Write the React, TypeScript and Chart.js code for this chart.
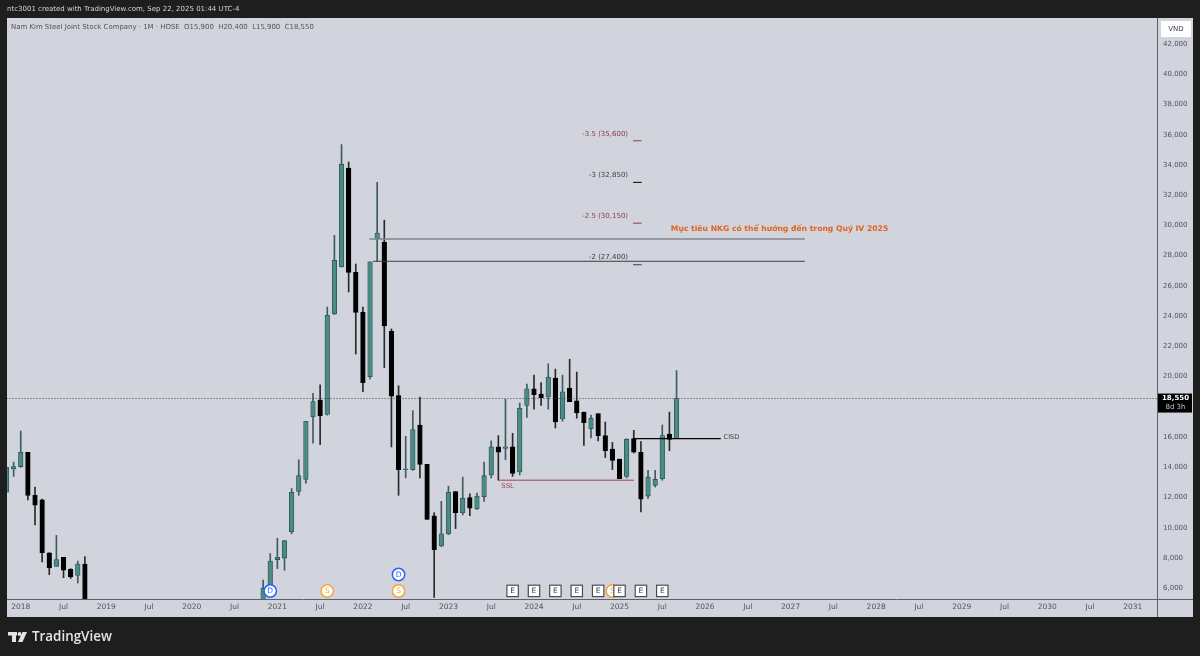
import { useEffect, useRef } from "react";
import { Chart, registerables } from "chart.js";

Chart.register(...registerables);

// month index 0 = Jan 2018
const months = [
  -2, -1, 0, 1, 2, 3, 4, 5, 6, 7, 8, 9,
  34, 35, 36, 37, 38, 39, 40, 41, 42, 43, 44, 45, 46, 47, 48, 49,
  50, 51, 52, 53, 54, 55, 56, 57, 58, 59, 60, 61, 62, 63, 64, 65,
  66, 67, 68, 69, 70, 71, 72, 73, 74, 75, 76, 77, 78, 79, 80, 81,
  82, 83, 84, 85, 86, 87, 88, 89, 90, 91, 92,
];
const opens = [
  12350, 13900, 14050, 15000, 12150, 11850, 8350, 7450, 8050, 7250, 6850, 7600,
  5000, 6000, 7900, 8000, 9750, 12400, 13200, 17350, 18450, 17500, 24150, 27250, 33800, 26900, 24250, 20000,
  29100, 28900, 23000, 18750, 13850, 13850, 16800, 14200, 10800, 8800, 9600, 12400, 11000, 12000, 11250, 12050,
  13500, 15350, 15250, 15350, 13700, 18100, 19200, 18850, 18650, 19900, 17200, 19250, 18400, 17650, 16550, 17550,
  16100, 15200, 14550, 13400, 15900, 15000, 12100, 12800, 13250, 16200, 15900,
];
const highs = [
  14000, 14350, 16400, 15000, 12700, 11900, 8350, 9500, 8050, 7300, 7800, 8100,
  6550, 8300, 9300, 9150, 12600, 14500, 17050, 18900, 19450, 24600, 29350, 35350, 34200, 27450, 24600, 27600,
  32850, 30350, 23150, 19400, 16050, 17750, 18650, 14200, 11000, 11750, 12750, 12400, 13350, 12250, 12300, 14350,
  15750, 16100, 18500, 16250, 18250, 19500, 20100, 19600, 20850, 20500, 20100, 21150, 20300, 17650, 17450, 17550,
  17000, 15650, 14550, 15900, 16450, 15700, 13800, 13800, 16800, 17650, 20400,
];
const lows = [
  12350, 13400, 14000, 11850, 10200, 7750, 6900, 7450, 6700, 6650, 6350, 4800,
  5000, 5950, 7300, 7200, 9600, 12150, 12950, 15600, 15500, 17450, 24100, 27250, 25600, 21500, 19000, 19850,
  27600, 20600, 15350, 12150, 13300, 13800, 13300, 10550, 5400, 8750, 9550, 9950, 10850, 10800, 11200, 11750,
  13300, 13150, 14500, 13400, 13500, 17300, 17850, 18100, 17850, 16600, 17050, 18350, 17250, 15450, 15950, 15750,
  14650, 13850, 13250, 13300, 14950, 11050, 11950, 12700, 13150, 15100, 15900,
];
const closes = [
  14000, 14050, 15000, 12150, 11500, 8350, 7350, 7900, 7200, 6750, 7600, 5000,
  6000, 7800, 8050, 9150, 12350, 13450, 17050, 18350, 17400, 24050, 27700, 34050, 26900, 24250, 19600, 27600,
  29500, 23350, 18700, 13850, 13900, 16500, 14200, 10550, 8550, 9600, 12350, 11000, 11950, 11300, 12100, 13450,
  15350, 15000, 15350, 13600, 17900, 19200, 18800, 18600, 19950, 17000, 19000, 18350, 17600, 16950, 17250, 16100,
  15100, 14450, 13250, 15850, 15000, 11900, 13350, 13200, 16100, 15850, 18550,
];

const priceTicks = [6000, 8000, 10000, 12000, 14000, 16000, 18000, 20000, 22000, 24000, 26000, 28000, 30000, 32000, 34000, 36000, 38000, 40000, 42000];
const timeTicks = [0, 6, 12, 18, 24, 30, 36, 42, 48, 54, 60, 66, 72, 78, 84, 90, 96, 102, 108, 114, 120, 126, 132, 138, 144, 150, 156];
const timeLabels = ["2018", "Jul", "2019", "Jul", "2020", "Jul", "2021", "Jul", "2022", "Jul", "2023", "Jul", "2024", "Jul", "2025", "Jul", "2026", "Jul", "2027", "Jul", "2028", "Jul", "2029", "Jul", "2030", "Jul", "2031"];

const lastPrice = 18550;
const fibPrices = [35600, 32850, 30150, 27400];
const fibLabels = ["-3.5 (35,600)", "-3 (32,850)", "-2.5 (30,150)", "-2 (27,400)"];
const fibLabelPrices = [36050, 33300, 30600, 27900];

const upperLinePrice = 29100;
const lowerLinePrice = 27630;
const ssLinePrice = 13150;
const cisdPrice = 15900;

const dividendMonths = [35, 53];
const splitMonths = [43, 53, 83];
const earningsMonths = [69, 72, 75, 78, 81, 84, 87, 90];

const UP = "#4c8a84";
const UP_EDGE = "#2c5256";
const DOWN = "#000000";
const FONT = '"DejaVu Sans"';

function segment(x0: number, x1: number, y: number, color: string, width: number, order = 1, dash: number[] = []) {
  return {
    type: "line" as const,
    data: [{ x: x0, y }, { x: x1, y }],
    borderColor: color,
    borderWidth: width,
    borderDash: dash,
    pointRadius: 0,
    order,
  };
}

const chartOverlay = {
  id: "overlay",
  beforeDraw(chart: any) {
    const { ctx, chartArea } = chart;
    ctx.save();
    ctx.fillStyle = "#1e1e1e";
    ctx.fillRect(0, 0, 1200, 656);
    ctx.fillStyle = "#d1d4dc";
    ctx.fillRect(7, 18, 1186, 599);
    ctx.strokeStyle = "#5d606b";
    ctx.lineWidth = 1;
    ctx.beginPath();
    ctx.moveTo(chartArea.right + 0.5, 18);
    ctx.lineTo(chartArea.right + 0.5, 617);
    ctx.moveTo(7, chartArea.bottom + 0.5);
    ctx.lineTo(1193, chartArea.bottom + 0.5);
    ctx.stroke();
    ctx.restore();
  },
  afterDraw(chart: any) {
    const { ctx, chartArea, scales } = chart;
    const px = (m: number) => scales.x.getPixelForValue(m);
    const py = (p: number) => scales.y.getPixelForValue(p);
    const text = (s: string, x: number, y: number, color: string, font: string, align: CanvasTextAlign = "left") => {
      ctx.fillStyle = color;
      ctx.font = font;
      ctx.textAlign = align;
      ctx.textBaseline = "middle";
      ctx.fillText(s, x, y);
    };
    ctx.save();

    // header and footer
    text("ntc3001 created with TradingView.com, Sep 22, 2025 01:44 UTC-4", 7, 9.5, "#d6d6d6", `7px ${FONT}`);
    text("Nam Kim Steel Joint Stock Company · 1M · HOSE  O15,900  H20,400  L15,900  C18,550", 11, 27.5, "#50535e", `6.95px ${FONT}`);
    text("TradingView", 32, 637.5, "#e4e4e4", '600 13.4px "Open Sans"');
    ctx.fillStyle = "#e4e4e4";
    ctx.fillRect(8, 632, 9, 3.5);
    ctx.fillRect(12, 632, 4, 10);
    ctx.beginPath();
    ctx.arc(19.5, 634, 1.9, 0, Math.PI * 2);
    ctx.fill();
    ctx.beginPath();
    ctx.moveTo(22.5, 632);
    ctx.lineTo(27, 632);
    ctx.lineTo(22.5, 642);
    ctx.lineTo(18, 642);
    ctx.fill();

    // fib targets
    fibLabels.forEach((label, i) => {
      const red = i % 2 === 0;
      text(label, px(85.2), py(fibLabelPrices[i]), red ? "#8a3b4e" : "#3a3d45", `7px ${FONT}`, "right");
    });
    text("Mục tiêu NKG có thể hướng đến trong Quý IV 2025", px(91.2), py(29750), "#e3621d", `bold 7.65px ${FONT}`);
    text("SSL", px(67.4), py(12750), "#a04455", `7px ${FONT}`);
    text("CISD", px(98.6), py(15960), "#3f424b", `6.5px ${FONT}`);

    // price axis tags
    ctx.fillStyle = "#ffffff";
    ctx.fillRect(1161, 21, 30, 16);
    text("VND", 1176, 29, "#3a3d45", `7px ${FONT}`, "center");
    ctx.fillStyle = "#000000";
    ctx.fillRect(chartArea.right + 1, py(lastPrice) - 5, 34, 19);
    text("18,550", 1175.5, py(lastPrice), "#ffffff", `bold 7px ${FONT}`, "center");
    text("8d 3h", 1175.5, py(lastPrice) + 9, "#c4c4c4", `7px ${FONT}`, "center");

    // event badges
    const circle = (m: number, y: number, color: string, letter: string) => {
      ctx.beginPath();
      ctx.arc(px(m), y, 6.2, 0, Math.PI * 2);
      ctx.fillStyle = "#ffffff";
      ctx.fill();
      ctx.strokeStyle = color;
      ctx.lineWidth = 1.5;
      ctx.stroke();
      text(letter, px(m), y + 0.5, color, `7.5px ${FONT}`, "center");
    };
    dividendMonths.forEach((m, i) => circle(m, i === 1 ? 574.5 : 591, "#2962ff", "D"));
    splitMonths.forEach((m) => circle(m, 591, "#f5a33c", "S"));
    earningsMonths.forEach((m) => {
      ctx.fillStyle = "#ffffff";
      ctx.fillRect(px(m) - 5.7, 585.2, 11.4, 11.4);
      ctx.strokeStyle = "#4a4d55";
      ctx.lineWidth = 1.2;
      ctx.strokeRect(px(m) - 5.7, 585.2, 11.4, 11.4);
      text("E", px(m), 591.5, "#3a3d45", `7.5px ${FONT}`, "center");
    });
    ctx.restore();
  },
};

export default function App() {
  const canvasRef = useRef<HTMLCanvasElement>(null);

  useEffect(() => {
    if (!canvasRef.current) return;
    const wickData = months.map((m, i) => ({ x: m, y: [lows[i], highs[i]] }));
    const bodyData = months.map((m, i) => ({ x: m, y: [opens[i], closes[i]] }));
    const isUp = months.map((_, i) => closes[i] >= opens[i]);

    const chart = new Chart(canvasRef.current, {
      data: {
        datasets: [
          segment(-2, 160, lastPrice, "#3a3d45", 1, 0, [1, 2]),
          segment(48.9, 110, upperLinePrice, "#83868f", 1.6),
          segment(49.4, 110, lowerLinePrice, "#3c3f48", 1),
          segment(67, 86, ssLinePrice, "#a5414f", 1),
          segment(86, 98.2, cisdPrice, "#000000", 1.2),
          segment(85.9, 87.1, fibPrices[0], "#8a3b4e", 1),
          segment(85.9, 87.1, fibPrices[1], "#000000", 1),
          segment(85.9, 87.1, fibPrices[2], "#8a3b4e", 1),
          segment(85.9, 87.1, fibPrices[3], "#3c3f48", 1),
          {
            type: "bar" as const,
            data: bodyData,
            grouped: false,
            barThickness: 4.6,
            backgroundColor: isUp.map((u) => (u ? UP : DOWN)),
            borderColor: isUp.map((u) => (u ? UP_EDGE : DOWN)),
            borderWidth: 0.8,
            borderSkipped: false,
            order: 2,
          },
          {
            type: "bar" as const,
            data: wickData,
            grouped: false,
            barThickness: 1,
            backgroundColor: isUp.map((u) => (u ? "#3c5c60" : "#2a2a2a")),
            order: 3,
          },
        ] as any,
      },
      options: {
        responsive: false,
        animation: false,
        events: [],
        layout: { padding: { left: 7, top: 18, right: 7, bottom: 40 } },
        plugins: { legend: { display: false }, tooltip: { enabled: false } },
        scales: {
          x: {
            type: "linear",
            min: -1.93,
            max: 159.4,
            offset: false,
            grid: { display: false, drawTicks: false },
            border: { display: false },
            afterFit: (s: any) => {
              s.height = 17;
            },
            afterBuildTicks: (s: any) => {
              s.ticks = timeTicks.map((value) => ({ value }));
            },
            ticks: {
              autoSkip: false,
              maxRotation: 0,
              padding: 4,
              color: "#50535e",
              font: { family: FONT, size: 7.5 },
              callback: (v: any) => timeLabels[timeTicks.indexOf(Number(v))] ?? "",
            },
          },
          y: {
            type: "linear",
            position: "right",
            min: 5292,
            max: 43720,
            grid: { display: false, drawTicks: false },
            border: { display: false },
            afterFit: (s: any) => {
              s.width = 36;
            },
            afterBuildTicks: (s: any) => {
              s.ticks = priceTicks.map((value) => ({ value }));
            },
            ticks: {
              autoSkip: false,
              padding: 6,
              color: "#50535e",
              font: { family: FONT, size: 7 },
              callback: (v: any) => Number(v).toLocaleString("en-US"),
            },
          },
        },
      },
      plugins: [chartOverlay],
    } as any);

    return () => chart.destroy();
  }, []);

  return (
    <div style={{ position: "absolute", left: 0, top: 0, width: 1200, height: 656 }}>
      <canvas ref={canvasRef} width={1200} height={656} />
    </div>
  );
}
